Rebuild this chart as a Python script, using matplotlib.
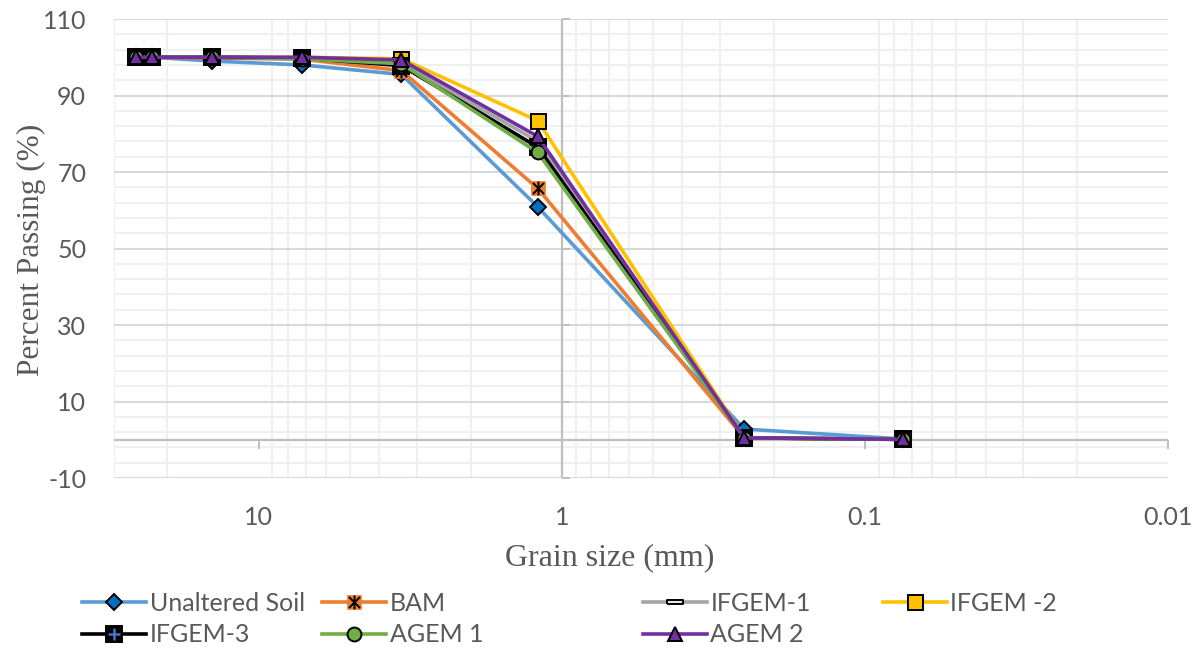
import matplotlib
matplotlib.use('Agg')
import matplotlib.pyplot as plt
import numpy as np
from matplotlib.path import Path
from matplotlib.markers import TICKDOWN, TICKRIGHT
from matplotlib.ticker import FixedLocator, FixedFormatter, NullFormatter

# ---------------- data ----------------
grain_size = [25.4, 22.4, 14.3, 7.2, 3.38, 1.2, 0.25, 0.075]
unaltered = [100, 100, 99.0, 98.0, 95.5, 60.9, 2.8, 0.2]
bam       = [100, 100, 99.8, 99.5, 96.5, 65.7, 0.5, 0.1]
ifgem1    = [100, 100, 100, 99.8, 98.5, 78.0, 0.5, 0.1]
ifgem2    = [100, 100, 100, 100, 99.6, 83.4, 0.5, 0.1]
ifgem3    = [100, 100, 100, 99.8, 97.8, 76.5, 0.5, 0.1]
agem1     = [100, 100, 100, 99.6, 98.3, 75.1, 0.5, 0.1]
agem2     = [100, 100, 100, 100, 99.3, 79.3, 0.5, 0.1]

x_major = [10, 1, 0.1, 0.01]
x_labels = ['10', '1', '0.1', '0.01']
y_major = [-10, 10, 30, 50, 70, 90, 110]
y_labels = ['-10', '10', '30', '50', '70', '90', '110']

# ---------------- style ----------------
TXT = '#595959'
SANS = ['Lato', 'DejaVu Sans']
SERIF = ['Liberation Serif', 'DejaVu Serif']
LW = 2.6

W, H = 1199, 650
fig = plt.figure(figsize=(W / 100, H / 100), dpi=100)
L, R, T, B = 114, 1168, 19, 478
ax = fig.add_axes([L / W, 1 - B / H, (R - L) / W, (B - T) / H])
ax.set_xscale('log')
ax.set_xlim(30, 0.01)
ax.set_ylim(-10, 110)

for s in ax.spines.values():
    s.set_visible(False)

# ticks / grid
ax.xaxis.set_major_locator(FixedLocator(x_major))
ax.xaxis.set_major_formatter(FixedFormatter(x_labels))
minor_x = [m * 10.0 ** e for e in range(-2, 2) for m in range(2, 10)]
ax.xaxis.set_minor_locator(FixedLocator(minor_x))
ax.xaxis.set_minor_formatter(NullFormatter())
ax.yaxis.set_major_locator(FixedLocator(y_major))
ax.yaxis.set_major_formatter(FixedFormatter(y_labels))
ax.yaxis.set_minor_locator(FixedLocator(np.arange(-10, 111, 4)))
ax.tick_params(which='both', length=0)
ax.tick_params(axis='x', which='major', pad=20, labelsize=18, labelcolor=TXT)
ax.tick_params(axis='y', which='major', pad=20, labelsize=18, labelcolor=TXT)
for lab in ax.get_xticklabels() + ax.get_yticklabels():
    lab.set_family(SANS)

ax.grid(which='minor', axis='both', color='#F0F0F0', lw=1.5, zorder=0)
ax.grid(which='major', axis='y', color='#D9D9D9', lw=1.5, zorder=0.5)
ax.grid(which='major', axis='x', visible=False)
ax.set_axisbelow(True)

# axes crossing lines
ax.axhline(0, color='#BFBFBF', lw=1.6, zorder=1)
ax.axvline(1, color='#BFBFBF', lw=1.6, zorder=1)
ax.plot(x_major, [0] * len(x_major), ls='none', marker=TICKDOWN, ms=6.5,
        mew=1.4, color='#BFBFBF', clip_on=False, zorder=1)
ax.plot([1] * len(y_major), y_major, ls='none', marker=TICKRIGHT, ms=6,
        mew=1.4, color='#BFBFBF', clip_on=False, zorder=1)

# custom markers
ast = Path([(-1, -1), (1, 1), (-1, 1), (1, -1), (0, -1.25), (0, 1.25)],
           [Path.MOVETO, Path.LINETO, Path.MOVETO, Path.LINETO, Path.MOVETO, Path.LINETO])
dash = [(-1, -0.28), (1, -0.28), (1, 0.28), (-1, 0.28), (-1, -0.28)]

kw = dict(lw=LW, solid_joinstyle='round', zorder=3)
h_un = ax.plot(grain_size, unaltered, color='#5B9BD5', marker='D', ms=7.8,
               mfc='#0070C0', mec='black', mew=1.4, **kw)[0]
h_bam1 = ax.plot(grain_size, bam, color='#ED7D31', marker='s', ms=10.5,
                 mfc='#ED7D31', mec='#ED7D31', mew=0.5, **kw)[0]
h_bam2 = ax.plot(grain_size, bam, ls='none', marker=ast, ms=10,
                 mec='black', mew=1.4, zorder=3)[0]
h_i1 = ax.plot(grain_size, ifgem1, color='#A5A5A5', marker=dash, ms=11,
               mfc='#E7E6E6', mec='black', mew=1.4, **kw)[0]
h_i2 = ax.plot(grain_size, ifgem2, color='#FFC000', marker='s', ms=10.8,
               mfc='#FFC000', mec='black', mew=1.4, **kw)[0]
h_i3a = ax.plot(grain_size, ifgem3, color='black', marker='s', ms=11,
                mfc='black', mec='black', mew=1.4, **kw)[0]
h_i3b = ax.plot(grain_size, ifgem3, ls='none', marker='+', ms=8,
                mec='#4472C4', mew=1.8, zorder=3)[0]
h_a1 = ax.plot(grain_size, agem1, color='#70AD47', marker='o', ms=10,
               mfc='#70AD47', mec='black', mew=1.4, **kw)[0]
h_a2 = ax.plot(grain_size, agem2, color='#7030A0', marker='^', ms=10,
               mfc='#7030A0', mec='black', mew=1.4, **kw)[0]

# axis titles
fig.text(31 / W, 1 - 250 / H, 'Percent Passing (%)', rotation=90, ha='center',
         va='center', fontsize=22.5, color=TXT, family=SERIF)
fig.text(610 / W, 1 - 558 / H, 'Grain size (mm)', ha='center', va='center',
         fontsize=23, color=TXT, family=SERIF)

# legend (four columns, placed like the reference)
cols = [
    ([h_un, (h_i3a, h_i3b)], ['Unaltered Soil', 'IFGEM-3'], 82),
    ([(h_bam1, h_bam2), h_a1], ['BAM', 'AGEM 1'], 322),
    ([h_i1, h_a2], ['IFGEM-1', 'AGEM 2'], 643),
    ([h_i2], ['IFGEM -2'], 883),
]
for handles, labels, xs in cols:
    lg = fig.legend(handles, labels, loc='upper left',
                    bbox_to_anchor=(xs / W, 1 - 592 / H), frameon=False,
                    borderpad=0, borderaxespad=0, handlelength=2.55,
                    handletextpad=0.15, labelspacing=0.33,
                    prop={'family': SANS, 'size': 18})
    for t in lg.get_texts():
        t.set_color(TXT)

fig.savefig('out.png', dpi=100)
